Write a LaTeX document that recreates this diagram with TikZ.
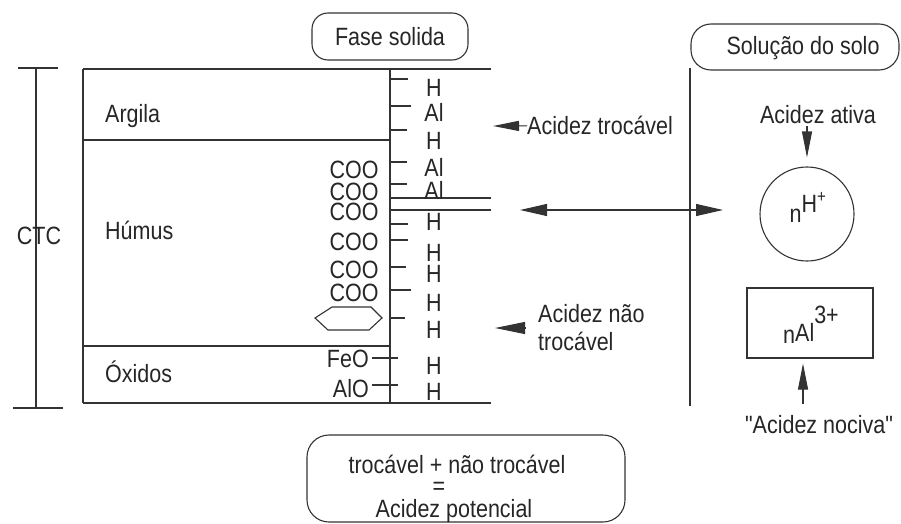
\documentclass[tikz,border=0pt]{standalone}
\usepackage{fontspec}
\setmainfont[FakeStretch=0.86, Ligatures=TeXOff]{Liberation Sans}
\usetikzlibrary{arrows.meta}
\begin{document}
\begin{tikzpicture}[x=1pt,y=-1pt,
  every node/.style={inner sep=0pt, text=black!85, font=\fontsize{25}{27}\selectfont},
  ln/.style={line width=1.1pt, draw=black!80},
  lbl/.style={anchor=base west},
  headarrow/.style={line width=1.1pt, draw=black!80, fill=black!85, -{Triangle[length=26pt,width=10pt]}},
  pill/.style={draw=black!80, line width=1.1pt, rounded corners=16pt},
]
\useasboundingbox (0,0) rectangle (901,524);

% ---- solid phase block ----
\draw[ln] (83,69) -- (491,69);
\draw[ln] (83,403) -- (491,403);
\draw[ln] (83,69) -- (83,403);
\draw[ln] (390,69) -- (390,403);
\draw[ln] (83,140) -- (390,140);
\draw[ln] (83,346) -- (390,346);
\draw[ln] (390,198) -- (491,198);
\draw[ln] (390,210) -- (491,210);

\node[lbl] (argila) at (105,122) {Argila};
\node[lbl] (humus)  at (105,239) {Húmus};
\node[lbl] (oxidos) at (105,382) {Óxidos};

% CTC bracket
\draw[ln] (18,68) -- (58,68);
\draw[ln] (13,408) -- (63,408);
\draw[ln] (36,68) -- (36,408);
\node[anchor=base] (ctc) at (39,244) {CTC};

% carboxyl groups and aromatic ring of humus
\foreach \y/\n in {170/1,192/2,212/3,242/4,270/5,293/6}
  \node (coo\n) at (354,\y) {COO};
\draw[ln] (315,318) -- (332,307) -- (371,307) -- (382,318) -- (369,330) -- (328,330) -- cycle;

% oxide groups
\node[anchor=base east] (feo) at (369,367) {FeO};
\node[anchor=base east] (alo) at (369,397) {AlO};
\draw[ln] (372,358) -- (398,358);
\draw[ln] (372,385) -- (398,385);

% exchange-site ticks
\foreach \y/\l in {79/408,106/411,130/407,162/407,184/407,224/408,240/408,267/406,290/411,318/405}
  \draw[ln] (390,\y) -- (\l,\y);

% adsorbed cations
\foreach \y/\t in {88/H,112/Al,141/H,167/Al,190/Al,222/H,253/H,274/H,303/H,330/H,366/H,392/H}
  \node (ion\y) at (434,\y) {\t};

% ---- headings ----
\node[pill, minimum width=156pt, minimum height=47pt] (fase) at (390,36.5) {Fase solida};
\node[pill, rounded corners=20pt, minimum width=208pt, minimum height=46pt] (solbox) at (795,47) {};
\node[anchor=base] (sol) at (803,55) {Solução do solo};

% ---- acidity labels ----
\node[lbl] (troc) at (527,135) {Acidez trocável};
\coordinate (trocTip) at (493,126);
\draw[headarrow] (troc.west) -- (trocTip);

\node[lbl] (ntroc1) at (538,322) {Acidez não};
\node[lbl] (ntroc2) at (538,350) {trocável};
\coordinate (ntA) at (526,328);
\coordinate (ntB) at (495,328);
\draw[line width=1.1pt, draw=black!80, fill=black!85, -{Triangle[length=30pt,width=12pt]}] (ntA) -- (ntB);

% equilibrium between phases
\coordinate (exL) at (520,210);
\coordinate (exR) at (723,210);
\draw[line width=1.1pt, draw=black!80, fill=black!85,
  {Triangle[length=27pt,width=12pt]}-{Triangle[length=27pt,width=12pt]}] (exL) -- (exR);

% ---- soil solution ----
\draw[ln] (690,68) -- (690,406);

\node[anchor=base] (ativa) at (818,123) {Acidez ativa};
\node[draw=black!80, line width=1.1pt, circle, minimum size=94pt] (hcirc) at (807,214) {};
\node[anchor=base] (nh) at (808,212) {\raisebox{-10pt}{n}H\textsuperscript{+}};
\draw[headarrow, shorten <=3pt, shorten >=9pt] (ativa.south -| hcirc.north) -- (hcirc.north);

\node[draw=black!80, line width=1.1pt, minimum width=126pt, minimum height=70pt] (albox) at (810,323) {};
\node[anchor=base] (nal) at (811,341) {\raisebox{-2pt}{n}Al\raisebox{18pt}{3+}};

\node[anchor=base] (nociva) at (819,433) {"Acidez nociva"};
\coordinate (nocTail) at (803,404);
\draw[headarrow, shorten >=5pt] (nocTail) -- (nocTail |- albox.south);

% ---- potential acidity ----
\node[pill, rounded corners=22pt, minimum width=318pt, minimum height=87pt] (potbox) at (466,478.5) {};
\node[anchor=base] (pot1) at (457,473) {trocável + não trocável};
\node[anchor=base] (pot2) at (439,494) {=};
\node[anchor=base] (pot3) at (454,517) {Acidez potencial};
\end{tikzpicture}
\end{document}
